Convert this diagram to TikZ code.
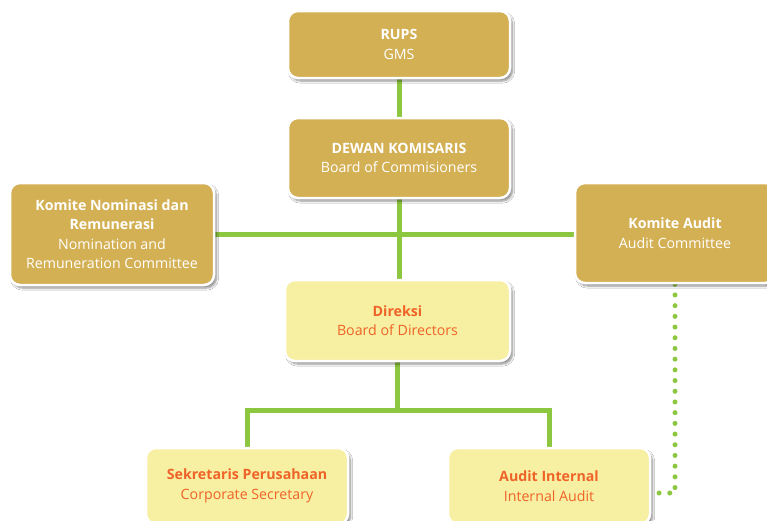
\documentclass[tikz,border=0pt]{standalone}
\usepackage{fontspec}
\setmainfont{Open Sans}
\usetikzlibrary{shadows.blur}
\definecolor{gold}{HTML}{D4B054}
\definecolor{paleyel}{HTML}{F7EFA2}
\definecolor{orng}{HTML}{EF6328}
\definecolor{lgreen}{HTML}{8DC63F}
\pgfdeclarelayer{bg}
\pgfsetlayers{bg,main}
\tikzset{
  x=1pt,y=1pt,
  box/.style={rounded corners=10pt, draw=white, line width=2.5pt, align=center,
    inner sep=0pt, font=\fontsize{14.2}{19.5}\selectfont,
    blur shadow={shadow xshift=2.5pt, shadow yshift=-3pt, shadow blur steps=6, shadow opacity=45}},
  goldbox/.style={box, fill=gold, text=white},
  yelbox/.style={box, fill=paleyel, text=orng},
  link/.style={draw=lgreen, line width=5pt},
  dotlink/.style={draw=lgreen, line width=5pt, line cap=round, dash pattern=on 0pt off 10.7pt},
}
\begin{document}
\begin{tikzpicture}
\useasboundingbox[clip] (0,0) rectangle (767,-520);
\node[goldbox, minimum width=222pt, minimum height=67pt] (rups) at (399,-44.5) {\textbf{RUPS}\\GMS};
\node[goldbox, minimum width=222pt, minimum height=80pt] (dewan) at (399,-158) {\textbf{DEWAN KOMISARIS}\\Board of Commisioners};
\node[goldbox, minimum width=204pt, minimum height=102pt] (nom) at (112,-234) {\textbf{Komite Nominasi dan}\\\textbf{Remunerasi}\\Nomination and\\Remuneration Committee};
\node[goldbox, minimum width=200pt, minimum height=100pt] (audit) at (675,-233) {\textbf{Komite Audit}\\Audit Committee};
\node[yelbox, minimum width=225pt, minimum height=81pt] (dir) at (397.5,-320.5) {\textbf{Direksi}\\Board of Directors};
\node[yelbox, minimum width=202pt, minimum height=76pt] (sek) at (247,-486) {\textbf{Sekretaris Perusahaan}\\Corporate Secretary};
\node[yelbox, minimum width=202pt, minimum height=76pt] (ai) at (549,-486) {\textbf{Audit Internal}\\Internal Audit};
\coordinate (fork) at (397.5,-410);
\begin{pgfonlayer}{bg}
\fill[white] (0,0) rectangle (767,-520);
\draw[link] (rups.south) -- (dewan.north);
\draw[link] (dewan.south) -- (dewan.south |- dir.north);
\draw[link] (nom.east) -- (nom.east -| audit.west);
\draw[link] (dir.south) -- (fork);
\draw[link] (sek.north) |- (fork) -| (ai.north);
\draw[dotlink] (audit.south) |- ([yshift=-7pt]ai.east);
\end{pgfonlayer}
\end{tikzpicture}
\end{document}
